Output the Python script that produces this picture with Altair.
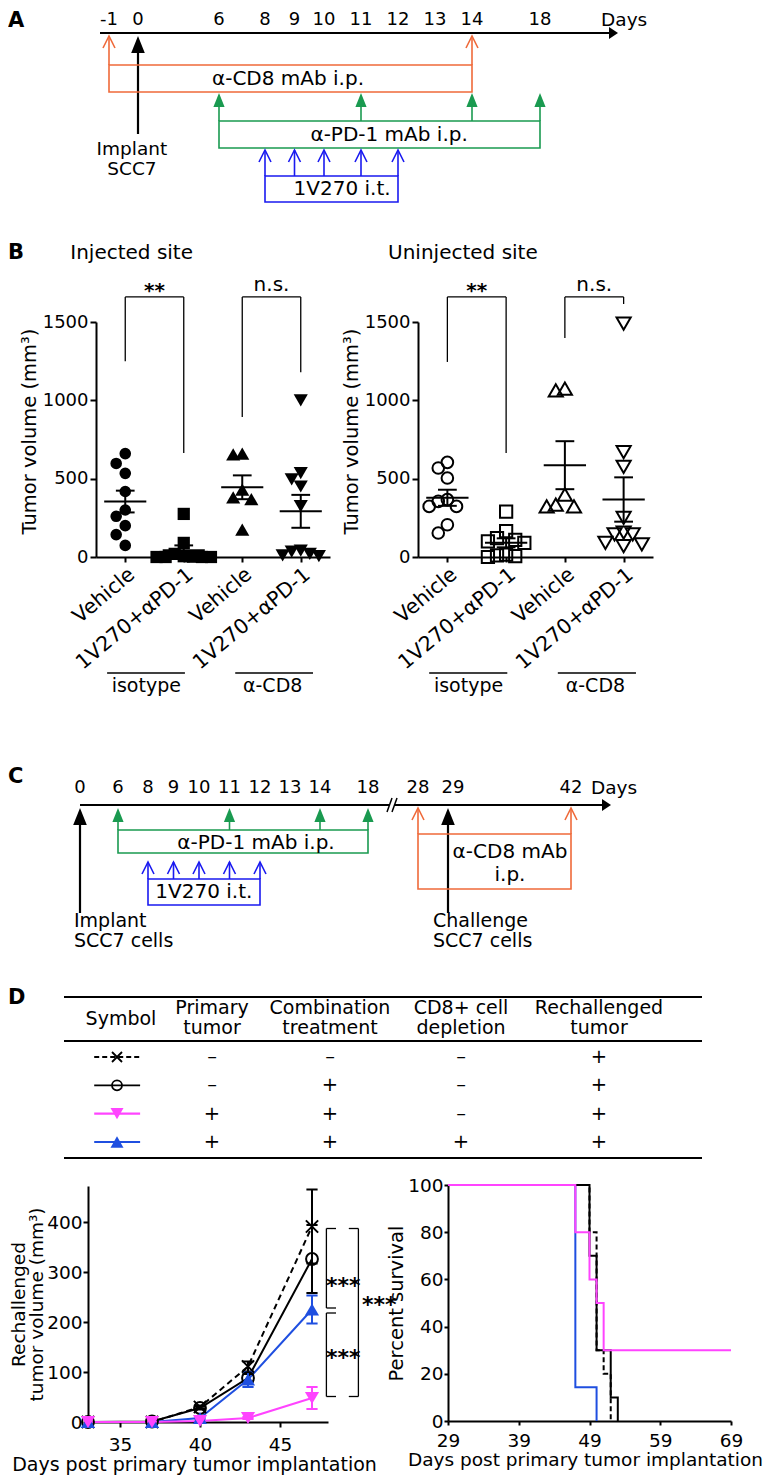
import json
import altair as alt
import numpy as np
import pandas as pd

# ======================= chart values =======================
# Panel A: treatment schedule (days)
A_TICK_DAYS = [-1, 0, 6, 8, 9, 10, 11, 12, 13, 14, 18]
A_CD8_DAYS = [-1, 14]
A_PD1_DAYS = [6, 11, 14, 18]
A_1V270_DAYS = [8, 9, 10, 11, 12]
A_IMPLANT_DAY = 0
A_TEXT = {"cd8": "α-CD8 mAb i.p.", "pd1": "α-PD-1 mAb i.p.", "tlr": "1V270 i.t.",
          "implant": ["Implant", "SCC7"], "days": "Days"}

# Panel B: tumour volumes (mm3)
B_CATEGORIES = ["Vehicle", "1V270+αPD-1", "Vehicle", "1V270+αPD-1"]
B_GROUPS = ["isotype", "α-CD8"]
B_INJ_VEH_ISO = [660, 597, 534, 418, 300, 260, 200, 143, 74]
B_INJ_TRT_ISO = [275, 90, 20, 5, 2, 0, 0, 0, 0]
B_INJ_VEH_CD8 = [660, 655, 430, 380, 370, 175]
B_INJ_TRT_CD8 = [1000, 535, 495, 450, 325, 40, 35, 20, 10, 5]
B_UNI_VEH_ISO = [604, 568, 504, 366, 355, 323, 323, 206, 153]
B_UNI_TRT_ISO = [290, 165, 120, 110, 100, 90, 15, 10, 5, 0]
B_UNI_VEH_CD8 = [1074, 1064, 398, 334, 323, 323]
B_UNI_TRT_CD8 = [1490, 670, 575, 250, 155, 145, 145, 90, 80, 70]
B_SIG = ["**", "n.s."]
B_TITLES = ["Injected site", "Uninjected site"]

# Panel C: rechallenge schedule (days)
C_TICK_DAYS = [0, 6, 8, 9, 10, 11, 12, 13, 14, 18, 28, 29, 42]
C_PD1_DAYS = [6, 11, 14, 18]
C_1V270_DAYS = [8, 9, 10, 11, 12]
C_CD8_DAYS = [28, 42]
C_IMPLANT_DAY = 0
C_CHALLENGE_DAY = 29

# Panel D: table
T_HEADER = ["Symbol", "Primary\ntumor", "Combination\ntreatment", "CD8+ cell\ndepletion", "Rechallenged\ntumor"]
T_ROWS = [["–", "–", "–", "+"],
          ["–", "+", "–", "+"],
          ["+", "+", "–", "+"],
          ["+", "+", "+", "+"]]

# Panel D: rechallenged tumour growth
D_DAYS = [33, 37, 40, 43, 47]
D_VOL_CTRL = [0, 0, 30, 111, 391]
D_SEM_CTRL = [0, 0, 3, 10, 74]
D_VOL_COMBO = [0, 1, 28, 88, 326]
D_SEM_COMBO = [0, 0, 3, 8, 68]
D_VOL_PRIMARY = [0, 0, 2, 8, 48]
D_SEM_PRIMARY = [0, 0, 1, 2, 22]
D_VOL_CD8 = [0, 0, 8, 85, 225]
D_SEM_CD8 = [0, 0, 2, 15, 28]
D_SIG = ["***", "***", "***"]

# Panel D: survival (%)
S_T_CTRL = [29, 49, 50, 51, 52]
S_P_CTRL = [100, 80, 30, 20, 0]
S_T_COMBO = [29, 49, 50, 52, 53]
S_P_COMBO = [100, 70, 30, 10, 0]
S_T_PRIMARY = [29, 47, 49, 50, 51, 69]
S_P_PRIMARY = [100, 80, 60, 50, 30, 30]
S_T_CD8 = [29, 47, 50]
S_P_CD8 = [100, 14.3, 0]

# ======================= layout / style =======================
W, H = 757, 1474
FONT = "DejaVu Sans"
BLACK = "#000000"
ORANGE = "#ef6a3a"
GREEN = "#1a9a50"
TBLUE = "#1a1af0"
MAGENTA = "#ff44ff"
BLUE = "#1f4fe0"

HEAD_UP = "M0,0L-0.8,2L0.8,2Z"
HEAD_OPEN = "M-1,2L0,0L1,2"
HEAD_RIGHT = "M0,0L-1.5,-1L-1.5,1Z"
XMARK = "M-1,-1L1,1M-1,1L1,-1"

A_XDOM = [-1.3, -1, 0, 6, 8, 10, 14, 18, 22.6]
A_XRNG = [92, 101, 130, 211, 257, 316, 464, 532, 610]
A_G = dict(label=12, axis=25, axis_end=22.1, tip=28, cd8_base=57, cd8_box=(57, 84), cd8_text=71,
           implant_base=126, pd1_tip=85, pd1_base=113, pd1_box=(113, 140), pd1_text=127,
           tlr_tip=142, tlr_base=168, tlr_box=(168, 194), tlr_text=181, implant_text=(141, 160.5))
A_TX = dict(days=21.6, cd8=8.78, pd1=11.76, tlr=10.49, implant=-0.21)

C_XDOM = [0, 6, 8, 10, 12, 14, 18, 28, 29, 42, 47]
C_XRNG = [72, 110, 140, 191, 252, 312, 360, 410, 440, 563, 603]
C_G = dict(label=780, axis=797, tip=800, axis_end=45.9, brk=(22.3, 23.3), slash=(804, 790),
           pd1_base=822, pd1_box=(822, 845), pd1_text=835, tlr_tip=854, tlr_base=871,
           tlr_box=(871, 897), tlr_text=884, cd8_base=826, cd8_box=(826, 881), cd8_text=(844, 867),
           black_base=905, lower_text=(913, 933))
C_TX = dict(days=44.5, pd1=11.87, tlr=10.16, cd8=35.55, implant=-0.95, challenge=28.5, lab29=29.53)

B_Y = (549, 314)
B_X_LEFT = (88, 322)
B_X_RIGHT = (410, 645)
B_TITLE_Y, B_TITLE_X = 1940, (-0.94, -1.01)
B_YTITLE_Y = 423
B_BRACKET_TOP = 1660
B_LEGS = {"inj": [(1250, 664), (893, 1180)], "uni": [(1245, 664), (1398, 1615)]}
B_SIG_Y = {"**": 1662, "n.s.": 1700}
B_UNDER = [(-0.31, 1.02, 0.36), (1.88, 3.21, 2.52)]
B_UNDER_Y, B_GROUP_Y = -740, -823

T_COL_DOM = [-1, 0, 1, 2, 3, 4, 5]
T_COL_RNG = [56, 113, 204, 322, 453, 591, 694]
T_ROW_DOM = [-2.118, 3.565]
T_ROW_RNG = [989, 1150]
T_LINES = [-2.118, -0.565, 3.565]
T_HEAD_ROW1, T_HEAD_ROW2 = -1.34, -1.72
T_SYM = (-0.47, 0.21, -0.07)

DL_X = ([33, 48], [80, 320])
DL_Y = ([0, 472], [1414, 1178])
DL_XTITLE_X = 186
DS_X = ([29, 69], [440, 723])
DS_Y = ([0, 100], [1413, 1177])
DS_XTITLE_X = 577
D_BRACKETS = [(47.9, 48.5, 387, 228), (47.9, 48.5, 218, 51), (49.9, 49.3, 387, 51)]
D_SIG_POS = [(48.95, 283), (48.95, 139), (51.2, 245)]


def sc(dom, rng):
    return alt.Scale(domain=list(dom), range=list(rng), zero=False, nice=False)


class Panel:
    def __init__(self, xs, ys, ax=None, ay=None):
        self.X = alt.X("x:Q", scale=xs, axis=ax)
        self.Y = alt.Y("y:Q", scale=ys, axis=ay)
        self.layers = []

    def segs(self, rows, **mk):
        df = pd.DataFrame(rows, columns=["x", "x2", "y", "y2", "c", "w"])
        self.layers.append(alt.Chart(df).mark_rule(**mk).encode(
            x=self.X, x2="x2:Q", y=self.Y, y2="y2:Q",
            color=alt.Color("c:N", scale=None),
            strokeWidth=alt.StrokeWidth("w:Q", scale=None)))

    def boxes(self, rows, sw=1.6):
        df = pd.DataFrame(rows, columns=["x", "x2", "y", "y2", "c"])
        self.layers.append(alt.Chart(df).mark_rect(filled=False, strokeWidth=sw).encode(
            x=self.X, x2="x2:Q", y=self.Y, y2="y2:Q", color=alt.Color("c:N", scale=None)))

    def pts(self, rows, shape, size, filled, sw=2.0):
        df = pd.DataFrame(rows, columns=["x", "y", "c"])
        self.layers.append(alt.Chart(df).mark_point(
            shape=shape, size=size, filled=filled, opacity=1, strokeWidth=sw).encode(
            x=self.X, y=self.Y, color=alt.Color("c:N", scale=None)))

    def texts(self, rows, size, align="center", baseline="middle", **mk):
        df = pd.DataFrame(rows, columns=["x", "y", "t"])
        self.layers.append(alt.Chart(df).mark_text(
            font=FONT, fontSize=size, align=align, baseline=baseline, color=BLACK, **mk).encode(
            x=self.X, y=self.Y, text="t:N"))

    def line(self, xv, yv, color, sw=2.0, dash=None, interp="linear"):
        df = pd.DataFrame({"x": xv, "y": yv})
        mk = dict(color=color, strokeWidth=sw, interpolate=interp)
        if dash:
            mk["strokeDash"] = dash
        self.layers.append(alt.Chart(df).mark_line(**mk).encode(x=self.X, y=self.Y))

    def chart(self):
        return alt.layer(*self.layers)


def letter(t, y):
    return alt.Chart(pd.DataFrame({"t": [t]})).mark_text(
        font=FONT, fontSize=21, fontWeight="bold", align="left", baseline="middle").encode(
        x=alt.value(0), y=alt.value(y), text="t:N")


# ---------------- Panel A ----------------
def panel_A():
    g = A_G
    p = Panel(sc(A_XDOM, A_XRNG), sc([0, H], [0, H]), None, None)
    segs = [(A_XDOM[0], g["axis_end"], g["axis"], g["axis"], BLACK, 2.2)]
    segs += [(d, d, g["tip"], g["cd8_base"], ORANGE, 1.6) for d in A_CD8_DAYS]
    segs += [(A_IMPLANT_DAY, A_IMPLANT_DAY, g["tip"] + 12, g["implant_base"], BLACK, 2.2)]
    segs += [(d, d, g["pd1_tip"] + 10, g["pd1_base"], GREEN, 1.6) for d in A_PD1_DAYS]
    segs += [(d, d, g["tlr_tip"], g["tlr_base"], TBLUE, 1.6) for d in A_1V270_DAYS]
    p.segs(segs)
    p.boxes([(A_CD8_DAYS[0], A_CD8_DAYS[-1], *g["cd8_box"], ORANGE),
             (A_PD1_DAYS[0], A_PD1_DAYS[-1], *g["pd1_box"], GREEN),
             (A_1V270_DAYS[0], A_1V270_DAYS[-1], *g["tlr_box"], TBLUE)])
    p.pts([(A_IMPLANT_DAY, g["tip"], BLACK)], HEAD_UP, 289, True)
    p.pts([(d, g["pd1_tip"], GREEN) for d in A_PD1_DAYS], HEAD_UP, 196, True)
    p.pts([(d, g["tip"], ORANGE) for d in A_CD8_DAYS] +
          [(d, g["tlr_tip"], TBLUE) for d in A_1V270_DAYS], HEAD_OPEN, 144, False, 1.6)
    p.pts([(A_XDOM[-1], g["axis"], BLACK)], HEAD_RIGHT, 144, True)
    p.texts([(d, g["label"], str(d)) for d in A_TICK_DAYS], 18)
    p.texts([(A_TX["days"], g["label"], A_TEXT["days"])], 18.5, align="left")
    p.texts([(A_TX["cd8"], g["cd8_text"], A_TEXT["cd8"]),
             (A_TX["pd1"], g["pd1_text"], A_TEXT["pd1"]),
             (A_TX["tlr"], g["tlr_text"], A_TEXT["tlr"])], 20)
    p.texts([(A_TX["implant"], g["implant_text"][0], A_TEXT["implant"][0]),
             (A_TX["implant"], g["implant_text"][1], A_TEXT["implant"][1])], 18.5)
    return p.chart()


# ---------------- Panel B ----------------
def swarm(vals, px_per_unit, gap_px=12.0, step=0.155):
    v = np.asarray(vals, float)
    order = sorted(range(len(v)), key=lambda i: -v[i])
    placed, offs = [], np.zeros(len(v))
    for i in order:
        y = v[i] * px_per_unit
        for k in (0, -1, 1, -2, 2, -3, 3):
            if all(pk != k or abs(y - py) >= gap_px for py, pk in placed):
                break
        placed.append((y, k))
        offs[i] = k * step
    return offs


LBL_EXPR = json.dumps(B_CATEGORIES, ensure_ascii=False) + "[datum.value]"


def panel_B(groups, filled, xr, title, title_x, legs):
    ppu = (B_Y[0] - B_Y[1]) / 1500.0
    ax = alt.Axis(orient="bottom", offset=B_Y[0] - H, values=[0, 1, 2, 3], labelExpr=LBL_EXPR,
                  labelAngle=-40, labelAlign="right", labelBaseline="top", labelFontSize=20.5,
                  labelPadding=2, tickSize=5, title=None)
    ay = alt.Axis(orient="left", offset=-xr[0], values=[0, 500, 1000, 1500], format="d",
                  labelFontSize=18, tickSize=6, labelPadding=2, title="Tumor volume (mm³)",
                  titleFontSize=19.5, titlePadding=3, titleY=B_YTITLE_Y)
    p = Panel(sc([-0.5, 3.5], xr), sc([0, 1500], B_Y), ax, ay)
    shapes = [("circle", 135), ("square", 150), ("triangle-up", 200), ("triangle-down", 200)]
    segs = []
    for i, vals in enumerate(groups):
        offs = swarm(vals, ppu)
        shp, size = shapes[i]
        p.pts([(i + o, v, BLACK) for o, v in zip(offs, vals)], shp, size, filled, 2.0)
        m = float(np.mean(vals))
        s = float(np.std(vals, ddof=1) / np.sqrt(len(vals)))
        segs += [(i - 0.36, i + 0.36, m, m, BLACK, 2), (i, i, m - s, m + s, BLACK, 2),
                 (i - 0.16, i + 0.16, m - s, m - s, BLACK, 2),
                 (i - 0.16, i + 0.16, m + s, m + s, BLACK, 2)]
    for j, (yl, yr) in enumerate(legs):
        a, b = 2 * j, 2 * j + 1
        segs += [(a, b, B_BRACKET_TOP, B_BRACKET_TOP, BLACK, 1.3),
                 (a, a, yl, B_BRACKET_TOP, BLACK, 1.3), (b, b, yr, B_BRACKET_TOP, BLACK, 1.3)]
    for x0, x1, _ in B_UNDER:
        segs.append((x0, x1, B_UNDER_Y, B_UNDER_Y, BLACK, 1.5))
    p.segs(segs)
    p.texts([(0.5, B_SIG_Y[B_SIG[0]], B_SIG[0])], 20, baseline="alphabetic", fontWeight="bold")
    p.texts([(2.5, B_SIG_Y[B_SIG[1]], B_SIG[1])], 20, baseline="alphabetic")
    p.texts([(title_x, B_TITLE_Y, title)], 20, align="left")
    p.texts([(u[2], B_GROUP_Y, gname) for u, gname in zip(B_UNDER, B_GROUPS)], 19)
    return p.chart()


# ---------------- Panel C ----------------
def panel_C():
    g = C_G
    p = Panel(sc(C_XDOM, C_XRNG), sc([0, H], [0, H]), None, None)
    b0, b1 = g["brk"]
    segs = [(C_XDOM[0], b0, g["axis"], g["axis"], BLACK, 2.2),
            (b1, g["axis_end"], g["axis"], g["axis"], BLACK, 2.2),
            (b0 - 0.5, b0 + 0.5, g["slash"][0], g["slash"][1], BLACK, 1.5),
            (b1 - 0.5, b1 + 0.5, g["slash"][0], g["slash"][1], BLACK, 1.5)]
    segs += [(d, d, g["tip"] + 12, g["black_base"], BLACK, 2.2) for d in (C_IMPLANT_DAY, C_CHALLENGE_DAY)]
    segs += [(d, d, g["tip"] + 10, g["pd1_base"], GREEN, 1.6) for d in C_PD1_DAYS]
    segs += [(d, d, g["tlr_tip"], g["tlr_base"], TBLUE, 1.6) for d in C_1V270_DAYS]
    segs += [(d, d, g["tip"], g["cd8_base"], ORANGE, 1.6) for d in C_CD8_DAYS]
    p.segs(segs)
    p.boxes([(C_PD1_DAYS[0], C_PD1_DAYS[-1], *g["pd1_box"], GREEN),
             (C_1V270_DAYS[0], C_1V270_DAYS[-1], *g["tlr_box"], TBLUE),
             (C_CD8_DAYS[0], C_CD8_DAYS[-1], *g["cd8_box"], ORANGE)])
    p.pts([(d, g["tip"], BLACK) for d in (C_IMPLANT_DAY, C_CHALLENGE_DAY)], HEAD_UP, 289, True)
    p.pts([(d, g["tip"], GREEN) for d in C_PD1_DAYS], HEAD_UP, 196, True)
    p.pts([(d, g["tip"], ORANGE) for d in C_CD8_DAYS] +
          [(d, g["tlr_tip"], TBLUE) for d in C_1V270_DAYS], HEAD_OPEN, 144, False, 1.6)
    p.pts([(C_XDOM[-1], g["axis"], BLACK)], HEAD_RIGHT, 144, True)
    p.texts([((C_TX["lab29"] if d == 29 else d), g["label"], str(d)) for d in C_TICK_DAYS], 18)
    p.texts([(C_TX["days"], g["label"], "Days")], 18.5, align="left")
    p.texts([(C_TX["pd1"], g["pd1_text"], "α-PD-1 mAb i.p."),
             (C_TX["tlr"], g["tlr_text"], "1V270 i.t."),
             (C_TX["cd8"], g["cd8_text"][0], "α-CD8 mAb"),
             (C_TX["cd8"], g["cd8_text"][1], "i.p.")], 20)
    p.texts([(C_TX["implant"], g["lower_text"][0], "Implant"),
             (C_TX["implant"], g["lower_text"][1], "SCC7 cells"),
             (C_TX["challenge"], g["lower_text"][0], "Challenge"),
             (C_TX["challenge"], g["lower_text"][1], "SCC7 cells")], 19, align="left")
    return p.chart()


# ---------------- Panel D table ----------------
def panel_table():
    p = Panel(sc(T_COL_DOM, T_COL_RNG), sc(T_ROW_DOM, T_ROW_RNG), None, None)
    segs = [(T_COL_DOM[0], T_COL_DOM[-1], r, r, BLACK, 1.8) for r in T_LINES]
    x0, x1, xm = T_SYM
    segs += [(x0, x1, 1, 1, BLACK, 1.8), (x0, x1, 2, 2, MAGENTA, 2.2), (x0, x1, 3, 3, BLUE, 2.2)]
    p.segs(segs)
    p.segs([(x0, x1, 0, 0, BLACK, 1.8)], strokeDash=[5, 3])
    p.pts([(xm, 0, BLACK)], XMARK, 100, False, 1.8)
    p.pts([(xm, 1, BLACK)], "circle", 100, False, 1.8)
    p.pts([(xm, 2, MAGENTA)], "triangle-down", 170, True)
    p.pts([(xm, 3, BLUE)], "triangle-up", 170, True)
    p.texts([(i, (T_HEAD_ROW2 if "\n" in h else T_HEAD_ROW1), h) for i, h in enumerate(T_HEADER)],
            19, lineBreak="\n", lineHeight=20)
    p.texts([(j + 1, i, v) for i, row in enumerate(T_ROWS) for j, v in enumerate(row)], 19.5)
    return p.chart()


# ---------------- Panel D growth ----------------
def panel_D_line():
    ax = alt.Axis(orient="bottom", offset=DL_Y[1][0] - H, values=[35, 40, 45], labelFontSize=18.5,
                  tickSize=5, labelPadding=8, title="Days post primary tumor implantation",
                  titleFontSize=19, titlePadding=2, titleX=DL_XTITLE_X)
    ay = alt.Axis(orient="left", offset=-DL_X[1][0], values=[0, 100, 200, 300, 400], format="d",
                  labelFontSize=18.5, tickSize=5, labelPadding=1,
                  title=["Rechallenged", "tumor volume (mm³)"], titleFontSize=18.5, titlePadding=0,
                  titleLineHeight=18)
    p = Panel(sc(*DL_X), sc(*DL_Y), ax, ay)
    series = [(D_VOL_CTRL, D_SEM_CTRL, BLACK, [6, 4]), (D_VOL_COMBO, D_SEM_COMBO, BLACK, None),
              (D_VOL_CD8, D_SEM_CD8, BLUE, None), (D_VOL_PRIMARY, D_SEM_PRIMARY, MAGENTA, None)]
    for vals, _, col, dash in series:
        p.line(D_DAYS, vals, col, 2.0, dash)
    segs = []
    for vals, sems, col, _ in series:
        for d, v, s in zip(D_DAYS, vals, sems):
            if s > 0:
                segs += [(d, d, v - s, v + s, col, 2), (d - 0.35, d + 0.35, v - s, v - s, col, 2),
                         (d - 0.35, d + 0.35, v + s, v + s, col, 2)]
    for xv, xc, ytop, ybot in D_BRACKETS:
        segs += [(xv, xv, ybot, ytop, BLACK, 1.3), (xv, xc, ytop, ytop, BLACK, 1.3),
                 (xv, xc, ybot, ybot, BLACK, 1.3)]
    p.segs(segs)
    p.pts([(d, v, BLACK) for d, v in zip(D_DAYS, D_VOL_CTRL)], XMARK, 150, False, 2)
    p.pts([(d, v, BLACK) for d, v in zip(D_DAYS, D_VOL_COMBO)], "circle", 140, False, 2)
    p.pts([(d, v, BLUE) for d, v in zip(D_DAYS, D_VOL_CD8)], "triangle-up", 200, True)
    p.pts([(d, v, MAGENTA) for d, v in zip(D_DAYS, D_VOL_PRIMARY)], "triangle-down", 200, True)
    p.texts([(x, y, s) for (x, y), s in zip(D_SIG_POS, D_SIG)], 22, baseline="alphabetic", dy=12,
            fontWeight="bold")
    return p.chart()


# ---------------- Panel D survival ----------------
def panel_D_surv():
    ax = alt.Axis(orient="bottom", offset=DS_Y[1][0] - H, values=[29, 39, 49, 59, 69], labelFontSize=18.5,
                  tickSize=4, labelPadding=6, title="Days post primary tumor implantation",
                  titleFontSize=18.5, titlePadding=1, titleX=DS_XTITLE_X)
    ay = alt.Axis(orient="left", offset=-DS_X[1][0], values=[0, 20, 40, 60, 80, 100], format="d",
                  labelFontSize=18.5, tickSize=4, labelPadding=1, title="Percent survival",
                  titleFontSize=19.5, titlePadding=1)
    p = Panel(sc(*DS_X), sc(*DS_Y), ax, ay)
    p.line(S_T_CD8, S_P_CD8, BLUE, 2.0, None, "step-after")
    p.line(S_T_CTRL, S_P_CTRL, BLACK, 2.0, [5, 3], "step-after")
    p.line(S_T_COMBO, S_P_COMBO, BLACK, 2.0, None, "step-after")
    p.line(S_T_PRIMARY, S_P_PRIMARY, MAGENTA, 2.0, None, "step-after")
    return p.chart()


chart = alt.layer(
    panel_A(),
    panel_B([B_INJ_VEH_ISO, B_INJ_TRT_ISO, B_INJ_VEH_CD8, B_INJ_TRT_CD8], True, B_X_LEFT,
            B_TITLES[0], B_TITLE_X[0], B_LEGS["inj"]),
    panel_B([B_UNI_VEH_ISO, B_UNI_TRT_ISO, B_UNI_VEH_CD8, B_UNI_TRT_CD8], False, B_X_RIGHT,
            B_TITLES[1], B_TITLE_X[1], B_LEGS["uni"]),
    panel_C(),
    panel_table(),
    panel_D_line(),
    panel_D_surv(),
    letter("A", 13), letter("B", 245), letter("C", 769), letter("D", 990),
).resolve_scale(x="independent", y="independent").properties(
    width=W, height=H, padding=0, autosize=alt.AutoSizeParams(type="none")
).configure_view(stroke=None).configure_axis(
    domainColor=BLACK, domainWidth=2, tickColor=BLACK, tickWidth=2, labelColor=BLACK,
    titleColor=BLACK, labelFont=FONT, titleFont=FONT, titleFontWeight="normal", grid=False,
    labelFlush=False, labelOverlap=False
)

chart.save("out.html", embed_options={"renderer": "svg", "actions": False})
